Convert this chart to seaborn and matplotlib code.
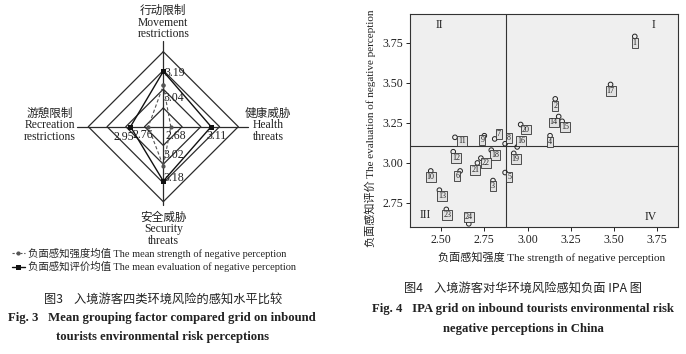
import numpy as np
import pandas as pd
import matplotlib
matplotlib.use("Agg")
import matplotlib.pyplot as plt
from matplotlib.lines import Line2D
import seaborn as sns

# ---------------- Fig. 3 data (radar) ----------------
risk_cn = ["行动限制", "健康威胁", "安全威胁", "游憩限制"]
risk_en = ["Movement\nrestrictions", "Health\nthreats", "Security\nthreats", "Recreation\nrestrictions"]
strength_mean = [3.04, 2.68, 3.02, 2.76]
evaluation_mean = [3.19, 3.11, 3.18, 2.95]
radar_rings = [2.8, 3.0, 3.2, 3.4]
radar_min = 2.6
legend_labels = ["负面感知强度均值 The mean strength of negative perception",
                 "负面感知评价均值 The mean evaluation of negative perception"]

# ---------------- Fig. 4 data (IPA grid) ----------------
item_ids = list(range(1, 25))
item_strength = [3.62, 3.16, 2.80, 3.13, 2.87, 2.61, 2.81, 2.87, 2.75, 2.44, 2.58, 2.57,
                 2.49, 3.18, 3.20, 2.94, 3.48, 2.79, 2.92, 2.96, 2.71, 2.73, 2.53, 2.66]
item_evaluation = [3.79, 3.40, 2.89, 3.17, 2.94, 2.95, 3.15, 3.12, 3.17, 2.95, 3.16, 3.07,
                   2.83, 3.29, 3.26, 3.10, 3.49, 3.08, 3.06, 3.24, 3.00, 3.03, 2.71, 2.62]
x_ticks = [2.50, 2.75, 3.00, 3.25, 3.50, 3.75]
y_ticks = [2.75, 3.00, 3.25, 3.50, 3.75]
quadrant_names = ["I", "II", "III", "IV"]

# ---------------- style ----------------
sns.set_theme(style="white")
FAM = ["Liberation Serif", "Noto Sans CJK SC"]
plt.rcParams["font.family"] = FAM
plt.rcParams["axes.unicode_minus"] = False

W, H = 686, 354
fig = plt.figure(figsize=(W / 100, H / 100), dpi=100)
fig.patch.set_facecolor("white")


def fx(px):
    return px / W


def fy(py):
    return 1 - py / H


# ================= Radar (Fig. 3) =================
cx, cy, scale = 163.3, 126.7, 93.75   # pixel centre, px per unit
aw, ah = 340, 250
ax1 = fig.add_axes([0, fy(ah), fx(aw), ah / H])
ax1.set_xlim(-cx / scale, (aw - cx) / scale)
ax1.set_ylim(-(ah - cy) / scale, cy / scale)
ax1.axis("off")

angles = np.deg2rad([90, 0, -90, 180])
grid_c = "#2b2b2b"
for ring in radar_rings:
    rr = np.array([ring - radar_min] * 5)
    ang = np.append(angles, angles[0])
    ax1.plot(rr * np.cos(ang), rr * np.sin(ang), color=grid_c, lw=0.9, zorder=1)
ax1.plot([-0.92, 0.90], [0, 0], color=grid_c, lw=0.9, zorder=1)
ax1.plot([0, 0], [-0.84, 0.91], color=grid_c, lw=0.9, zorder=1)


def polygon(vals):
    r = np.array(vals) - radar_min
    xs = np.append(r * np.cos(angles), r[0] * np.cos(angles[0]))
    ys = np.append(r * np.sin(angles), r[0] * np.sin(angles[0]))
    return pd.DataFrame({"x": np.round(xs, 6), "y": np.round(ys, 6)})


df_s = polygon(strength_mean)
df_e = polygon(evaluation_mean)
sns.lineplot(data=df_s, x="x", y="y", sort=False, estimator=None, ax=ax1,
             color="#555555", lw=0.8, linestyle=(0, (3, 2)), marker="o",
             markersize=3, markeredgewidth=0, zorder=3)
sns.lineplot(data=df_e, x="x", y="y", sort=False, estimator=None, ax=ax1,
             color="#111111", lw=1.0, marker="s", markersize=3.6,
             markeredgewidth=0, zorder=4)

# value labels (offsets in pixels)
off_s = [(10, -12.5), (5, -9.5), (10, 11), (-5, -8.5)]
off_e = [(11, -2), (5.5, -9.5), (11, 3.5), (-7, -10)]
for i in range(4):
    ax1.annotate(f"{strength_mean[i]:.2f}", (df_s.x[i], df_s.y[i]), xytext=off_s[i],
                 textcoords="offset pixels", ha="center", va="center",
                 fontsize=8.6, color="#222")
    ax1.annotate(f"{evaluation_mean[i]:.2f}", (df_e.x[i], df_e.y[i]), xytext=off_e[i],
                 textcoords="offset pixels", ha="center", va="center",
                 fontsize=8.6, color="#222")

cat_pos = [(163.3, 22.5), (268, 125.5), (163.3, 229), (50, 125.5)]
for (px, py), cn, en in zip(cat_pos, risk_cn, risk_en):
    fig.text(fx(px), fy(py), cn + "\n" + en, ha="center", va="center",
             fontsize=8.4, linespacing=0.95, color="#222", family=FAM)

handles = [
    Line2D([], [], color="#555555", lw=0.8, linestyle=(0, (2, 1.5)), marker="o",
           markersize=3, markeredgewidth=0),
    Line2D([], [], color="#111111", lw=1.0, marker="s", markersize=3.6,
           markeredgewidth=0),
]
fig.legend(handles, legend_labels, loc="upper left",
           bbox_to_anchor=(fx(12), fy(248)), frameon=False, fontsize=7.5,
           handlelength=1.2, handletextpad=0.3, labelspacing=0.2,
           borderpad=0, borderaxespad=0)

fig.text(fx(163), fy(299), "图3    入境游客四类环境风险的感知水平比较", ha="center",
         va="center", fontsize=8.8, family=["Noto Sans CJK SC"], color="#222")
fig.text(fx(162), fy(318), "Fig. 3   Mean grouping factor compared grid on inbound",
         ha="center", va="center", fontsize=9.2, weight="bold", color="#222")
fig.text(fx(163), fy(337), "tourists environmental risk perceptions",
         ha="center", va="center", fontsize=9.2, weight="bold", color="#222")

# ================= IPA grid (Fig. 4) =================
L, R, T, B = 410, 678, 14, 227
ax2 = fig.add_axes([fx(L), fy(B), (R - L) / W, (B - T) / H])
ax2.set_facecolor("#efefef")
ipa = pd.DataFrame({"id": item_ids, "strength": item_strength,
                    "evaluation": item_evaluation})
sns.scatterplot(data=ipa, x="strength", y="evaluation", ax=ax2, s=11,
                facecolor="none", edgecolor="#222", linewidth=0.7, zorder=4)

ax2.axvline(np.mean(strength_mean), color="#333", lw=0.8, zorder=2)
ax2.axhline(np.mean(evaluation_mean), color="#333", lw=0.8, zorder=2)

label_off = {1: (0, 7), 2: (0, 7), 3: (0, 5), 4: (0, 6), 5: (4, 4), 6: (-3, 5),
             7: (4, -5), 8: (4, -6), 9: (-2, 4), 10: (0, 6), 11: (7, 4), 12: (3, 6),
             13: (3, 6), 14: (-5, 6), 15: (3, 6), 16: (4, -6), 17: (0, 7), 18: (4, 5),
             19: (2, 6), 20: (5, 5), 21: (-2, 7), 22: (5, 5), 23: (1, 6), 24: (0, -7)}
for i, xv, yv in zip(item_ids, item_strength, item_evaluation):
    dx, dy = label_off[i]
    ax2.annotate(str(i), (xv, yv), xytext=(dx, -dy), textcoords="offset pixels",
                 ha="center", va="center", fontsize=5.8, color="#222", zorder=5,
                 bbox=dict(boxstyle="square,pad=0.12", fc="#e2e2e2", ec="#333", lw=0.6))

ax2.set_xlim(2.32, 3.87)
ax2.set_ylim(2.60, 3.93)
ax2.set_xticks(x_ticks)
ax2.set_xticklabels([f"{t:.2f}" for t in x_ticks])
ax2.set_yticks(y_ticks)
ax2.set_yticklabels([f"{t:.2f}" for t in y_ticks])
ax2.tick_params(direction="out", length=3, width=0.7, labelsize=8.6, colors="#222",
                pad=2, bottom=True, left=True)
for sp in ax2.spines.values():
    sp.set_color("#333")
    sp.set_linewidth(0.8)

ax2.set_xlabel("负面感知强度 The strength of negative perception", fontsize=8,
               color="#222")
ax2.xaxis.set_label_coords((552 - L) / (R - L), -(257 - B) / (B - T))
ax2.xaxis.label.set_va("center")
ax2.set_ylabel("负面感知评价 The evaluation of negative perception", fontsize=8,
               color="#222")
ax2.yaxis.set_label_coords((370 - L) / (R - L), 1 - (128 - T) / (B - T))
ax2.yaxis.label.set_va("center")

quad_pos = [(0.910, 0.950), (0.109, 0.948), (0.056, 0.056), (0.899, 0.046)]
for name, (qx, qy) in zip(quadrant_names, quad_pos):
    ax2.text(qx, qy, name, transform=ax2.transAxes, ha="center", va="center",
             fontsize=8.5, color="#222")

fig.text(fx(523), fy(288), "图4    入境游客对华环境风险感知负面 IPA 图", ha="center",
         va="center", fontsize=8.8, family=["Noto Sans CJK SC"], color="#222")
fig.text(fx(523), fy(309), "Fig. 4   IPA grid on inbound tourists environmental risk",
         ha="center", va="center", fontsize=9.2, weight="bold", color="#222")
fig.text(fx(523), fy(329), "negative perceptions in China",
         ha="center", va="center", fontsize=9.2, weight="bold", color="#222")

fig.savefig("out.png", dpi=100, facecolor="white")
